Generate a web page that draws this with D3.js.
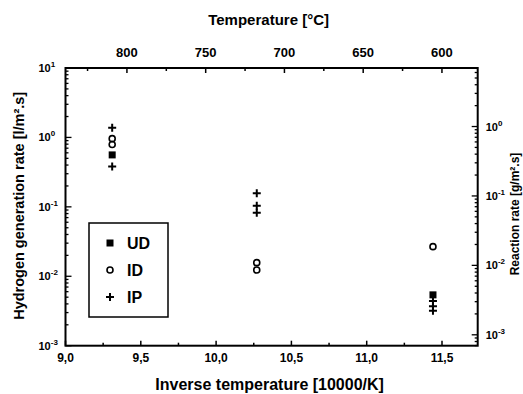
<!DOCTYPE html>
<html>
<head>
<meta charset="utf-8">
<script src="https://cdn.jsdelivr.net/npm/d3@7"></script>
<style>
  body { margin: 0; background: #fff; }
  text { font-family: "Liberation Sans", Arial, sans-serif; font-weight: bold; fill: #000; }
</style>
</head>
<body>
<div id="chart"></div>
<script>
// data
var udX = [9.31, 11.44];
var udY = [0.56, 0.0054];
var idX = [9.31, 9.31, 10.27, 10.27, 11.44];
var idY = [0.96, 0.79, 0.0157, 0.0123, 0.0267];
var ipX = [9.31, 9.31, 10.27, 10.27, 10.27, 11.44, 11.44, 11.44];
var ipY = [1.38, 0.38, 0.157, 0.104, 0.082, 0.0044, 0.0037, 0.0032];

var xTicks = [9.0, 9.5, 10.0, 10.5, 11.0, 11.5];
var xTickLabels = ["9,0", "9,5", "10,0", "10,5", "11,0", "11,5"];
var topTicks = [800, 750, 700, 650, 600];
var leftExp = [1, 0, -1, -2, -3];
var rightExp = [0, -1, -2, -3];
var legendNames = ["UD", "ID", "IP"];

var W = 523, H = 394;
var margin = { top: 68, right: 45.3, bottom: 48.3, left: 65.5 },
  width = W - margin.left - margin.right,
  height = H - margin.top - margin.bottom;

var svg = d3.select("#chart")
  .append("svg")
  .attr("width", W)
  .attr("height", H)
  .append("g")
  .attr("transform", "translate(" + margin.left + "," + margin.top + ")");

var x = d3.scaleLinear().domain([9.0, 11.737]).range([0, width]);
var y = d3.scaleLog().domain([1e-3, 1e1]).range([height, 0]);
var yR = d3.scaleLog().domain([Math.pow(10, -3.157), Math.pow(10, 0.843)]).range([height, 0]);
var xTop = d3.scaleLinear().domain([839, 577.3]).range([0, width]);

function logMinors(sc) {
  var out = [];
  var d = sc.domain();
  for (var e = -4; e <= 1; e++) {
    for (var m = 1; m <= 9; m++) {
      var v = m * Math.pow(10, e);
      if (v >= d[0] && v <= d[1]) out.push({ v: v, major: m == 1 });
    }
  }
  return out;
}

// frame
svg.append("rect")
  .attr("width", width).attr("height", height)
  .attr("fill", "none").attr("stroke", "#000").attr("stroke-width", 2);

// left ticks (inward)
svg.selectAll(".lt").data(logMinors(y)).enter().append("line")
  .attr("x1", 0).attr("x2", function (d) { return d.major ? 6 : 3; })
  .attr("y1", function (d) { return y(d.v); }).attr("y2", function (d) { return y(d.v); })
  .attr("stroke", "#000").attr("stroke-width", 1.3);

// right ticks (inward)
svg.selectAll(".rt").data(logMinors(yR)).enter().append("line")
  .attr("x1", width).attr("x2", function (d) { return width - (d.major ? 6 : 3); })
  .attr("y1", function (d) { return yR(d.v); }).attr("y2", function (d) { return yR(d.v); })
  .attr("stroke", "#000").attr("stroke-width", 1.3);

// bottom ticks
var xMinor = d3.range(9.25, 11.75, 0.5);
svg.selectAll(".bt").data(xTicks).enter().append("line")
  .attr("x1", function (d) { return x(d); }).attr("x2", function (d) { return x(d); })
  .attr("y1", height).attr("y2", height - 5)
  .attr("stroke", "#000").attr("stroke-width", 1.5);
svg.selectAll(".bm").data(xMinor).enter().append("line")
  .attr("x1", function (d) { return x(d); }).attr("x2", function (d) { return x(d); })
  .attr("y1", height).attr("y2", height - 3)
  .attr("stroke", "#000").attr("stroke-width", 1.5);

// top ticks
var topMinor = [825, 775, 725, 675, 625];
svg.selectAll(".tt").data(topTicks).enter().append("line")
  .attr("x1", function (d) { return xTop(d); }).attr("x2", function (d) { return xTop(d); })
  .attr("y1", 0).attr("y2", 5)
  .attr("stroke", "#000").attr("stroke-width", 1.5);
svg.selectAll(".tm").data(topMinor).enter().append("line")
  .attr("x1", function (d) { return xTop(d); }).attr("x2", function (d) { return xTop(d); })
  .attr("y1", 0).attr("y2", 3)
  .attr("stroke", "#000").attr("stroke-width", 1.5);

// bottom tick labels
svg.selectAll(".bl").data(xTicks).enter().append("text")
  .attr("x", function (d) { return x(d); })
  .attr("y", height + 16)
  .attr("text-anchor", "middle")
  .style("font-size", "12px")
  .text(function (d, i) { return xTickLabels[i]; });

// top tick labels
svg.selectAll(".tl").data(topTicks).enter().append("text")
  .attr("x", function (d) { return xTop(d); })
  .attr("y", -11)
  .attr("text-anchor", "middle")
  .style("font-size", "13px")
  .text(function (d) { return d; });

function powLabel(sel) {
  sel.append("tspan").text("10").style("font-size", "11px");
  sel.append("tspan").attr("dy", -5).style("font-size", "8px")
    .text(function (d) { return d; });
}

// left labels
svg.selectAll(".ll").data(leftExp).enter().append("text")
  .attr("x", -27)
  .attr("y", function (d) { return y(Math.pow(10, d)) + 4; })
  .call(powLabel);

// right labels
svg.selectAll(".rl").data(rightExp).enter().append("text")
  .attr("x", width + 8)
  .attr("y", function (d) { return yR(Math.pow(10, d)) + 4; })
  .call(powLabel);

// axis titles
svg.append("text")
  .attr("x", width / 2 - 3)
  .attr("y", -43)
  .attr("text-anchor", "middle")
  .style("font-size", "15px")
  .text("Temperature [°C]");

svg.append("text")
  .attr("x", width / 2 - 2)
  .attr("y", height + 44)
  .attr("text-anchor", "middle")
  .style("font-size", "16px")
  .text("Inverse temperature [10000/K]");

svg.append("text")
  .attr("transform", "rotate(-90)")
  .attr("x", -height / 2 + 1)
  .attr("y", -42)
  .attr("text-anchor", "middle")
  .style("font-size", "14.5px")
  .text("Hydrogen generation rate [l/m².s]");

svg.append("text")
  .attr("transform", "rotate(-90)")
  .attr("x", -(214 - margin.top))
  .attr("y", width + 41)
  .attr("text-anchor", "middle")
  .style("font-size", "12px")
  .text("Reaction rate [g/m².s]");

// markers
var ud = udX.map(function (d, i) { return { x: d, y: udY[i] }; });
var id = idX.map(function (d, i) { return { x: d, y: idY[i] }; });
var ip = ipX.map(function (d, i) { return { x: d, y: ipY[i] }; });

function drawSquare(g, cx, cy) {
  g.append("rect").attr("x", cx - 3.5).attr("y", cy - 3.5)
    .attr("width", 7).attr("height", 7).attr("fill", "#000");
}
function drawCircle(g, cx, cy) {
  g.append("circle").attr("cx", cx).attr("cy", cy).attr("r", 3)
    .attr("fill", "none").attr("stroke", "#000").attr("stroke-width", 1.6);
}
function drawPlus(g, cx, cy) {
  g.append("path")
    .attr("d", "M" + (cx - 4) + "," + cy + "H" + (cx + 4) + "M" + cx + "," + (cy - 4) + "V" + (cy + 4))
    .attr("stroke", "#000").attr("stroke-width", 2);
}

var marks = svg.append("g");
ud.forEach(function (d) { drawSquare(marks, x(d.x), y(d.y)); });
id.forEach(function (d) { drawCircle(marks, x(d.x), y(d.y)); });
ip.forEach(function (d) { drawPlus(marks, x(d.x), y(d.y)); });

// legend
var lg = svg.append("g").attr("transform", "translate(" + (89 - margin.left) + "," + (223 - margin.top) + ")");
lg.append("rect").attr("width", 79).attr("height", 94)
  .attr("fill", "#fff").attr("stroke", "#000").attr("stroke-width", 1.5);
var drawers = [drawSquare, drawCircle, drawPlus];
legendNames.forEach(function (n, i) {
  var cy = 20 + i * 27;
  drawers[i](lg, 21, cy);
  lg.append("text").attr("x", 38).attr("y", cy + 6)
    .style("font-size", "16px").text(n);
});
</script>
</body>
</html>
